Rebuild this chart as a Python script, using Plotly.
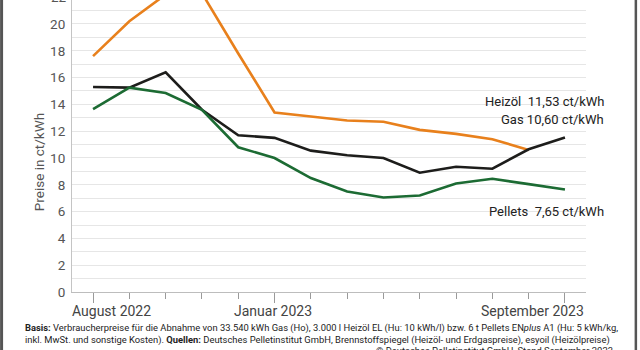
import plotly.graph_objects as go

months = ["Aug 2022", "Sep 2022", "Okt 2022", "Nov 2022", "Dez 2022", "Jan 2023", "Feb 2023",
          "Mär 2023", "Apr 2023", "Mai 2023", "Jun 2023", "Jul 2023", "Aug 2023", "Sep 2023"]
gas = [17.6, 20.2, 22.2, 22.3, 17.8, 13.4, 13.1, 12.8, 12.7, 12.1, 11.8, 11.4, 10.60]
heizoel = [15.3, 15.25, 16.4, 13.6, 11.7, 11.5, 10.55, 10.2, 10.0, 8.9, 9.35, 9.2, 10.65, 11.53]
pellets = [13.65, 15.25, 14.85, 13.6, 10.8, 10.0, 8.5, 7.5, 7.05, 7.2, 8.1, 8.45, 8.05, 7.65]
label_months = ["August 2022", "Januar 2023", "September 2023"]
label_idx = [0, 5, 13]
y_ticks = [0, 2, 4, 6, 8, 10, 12, 14, 16, 18, 20]

x_idx = list(range(len(months)))

C_GAS = "#e8801c"
C_OIL = "#1d1d1b"
C_PEL = "#1c6b33"

fig = go.Figure()
for name, vals, col in [("Gas", gas, C_GAS), ("Heizöl", heizoel, C_OIL), ("Pellets", pellets, C_PEL)]:
    fig.add_trace(go.Scatter(x=x_idx[:len(vals)], y=vals, mode="lines", name=name,
                             line=dict(color=col, width=2.6), hoverinfo="skip", showlegend=False))

YMAX = 21.79
FONT = "Roboto, Open Sans, sans-serif"

fig.update_layout(
    width=640, height=350,
    margin=dict(l=72, r=54, t=0, b=58),
    paper_bgcolor="white", plot_bgcolor="white",
    font=dict(family=FONT, color="#555"),
    xaxis=dict(range=[-0.58, 13.58], showgrid=False, zeroline=False,
               showline=True, linecolor="#bdbdbd", linewidth=1,
               tickmode="array", tickvals=label_idx, ticktext=["" for _ in label_idx],
               ticks="outside", ticklen=10, tickcolor="#9a9a9a", tickwidth=1,
               minor=dict(dtick=1, tick0=0, ticks="outside", ticklen=6, tickcolor="#9a9a9a",
                          showgrid=False)),
    yaxis=dict(range=[0, YMAX], tickmode="array", tickvals=y_ticks,
               ticktext=[str(v) for v in y_ticks], showgrid=True, gridcolor="#e6e6e6",
               gridwidth=1, zeroline=False, showline=True, linecolor="#c4c4c4",
               ticks="", ticklabelstandoff=3,
               tickfont=dict(family=FONT, size=13.5, color="#555"),
               minor=dict(dtick=1, tick0=0, showgrid=True, gridcolor="#e6e6e6", gridwidth=1)),
)

ann = []
ann.append(dict(x=0, xref="paper", y=22 / YMAX, yref="paper", text="22", showarrow=False,
                xanchor="right", yanchor="middle", xshift=-3,
                font=dict(family=FONT, size=13.5, color="#555")))
ann.append(dict(x=-0.064, y=0.445, xref="paper", yref="paper", text="Preise in ct/kWh",
                showarrow=False, textangle=-90, xanchor="center", yanchor="middle",
                font=dict(family=FONT, size=13.5, color="#555")))
for txt, xp, anc in [(label_months[0], -0.004, "left"), (label_months[1], 0.391, "center"),
                     (label_months[2], 1.0, "right")]:
    ann.append(dict(x=xp, y=-0.065, xref="paper", yref="paper", text=txt, showarrow=False,
                    xanchor=anc, yanchor="middle", font=dict(family=FONT, size=14, color="#444")))
for txt, yp in [("Heizöl\u00a0 %s ct/kWh" % f"{heizoel[-1]:.2f}".replace(".", ","), 0.654),
                ("Gas %s ct/kWh" % f"{gas[-1]:.2f}".replace(".", ","), 0.592),
                ("Pellets\u00a0 %s ct/kWh" % f"{pellets[-1]:.2f}".replace(".", ","), 0.274)]:
    ann.append(dict(x=1.039, y=yp, xref="paper", yref="paper", text=txt, showarrow=False,
                    xanchor="right", yanchor="middle", font=dict(family=FONT, size=13, color="#222")))
foot1 = ("<b>Basis:</b> Verbraucherpreise für die Abnahme von 33.540 kWh Gas (Ho), 3.000 l Heizöl EL "
         "(Hu: 10 kWh/l) bzw. 6 t Pellets EN<i>plus</i> A1 (Hu: 5 kWh/kg,")
foot2 = ("inkl. MwSt. und sonstige Kosten). <b>Quellen:</b> Deutsches Pelletinstitut GmbH, "
         "Brennstoffspiegel (Heizöl- und Erdgaspreise), esyoil (Heizölpreise)")
foot3 = "© Deutsches Pelletinstitut GmbH, Stand September 2023"
FS = 9.4
ann.append(dict(x=-0.0953, y=-0.123, xref="paper", yref="paper", text=foot1, showarrow=False,
                xanchor="left", yanchor="middle", font=dict(family=FONT, size=FS, color="#222")))
ann.append(dict(x=-0.0953, y=-0.164, xref="paper", yref="paper", text=foot2, showarrow=False,
                xanchor="left", yanchor="middle", font=dict(family=FONT, size=FS, color="#222")))
ann.append(dict(x=1.056, y=-0.202, xref="paper", yref="paper", text=foot3, showarrow=False,
                xanchor="right", yanchor="middle", font=dict(family=FONT, size=FS, color="#222")))
fig.update_layout(annotations=ann)

fig.add_shape(type="line", xref="paper", yref="paper", x0=-0.137, x1=-0.137, y0=-0.25, y1=1.05,
              line=dict(color="#555", width=3))
fig.add_shape(type="line", xref="paper", yref="paper", x0=1.097, x1=1.097, y0=-0.25, y1=1.05,
              line=dict(color="#555", width=2.5))

fig.write_html("out.html")
